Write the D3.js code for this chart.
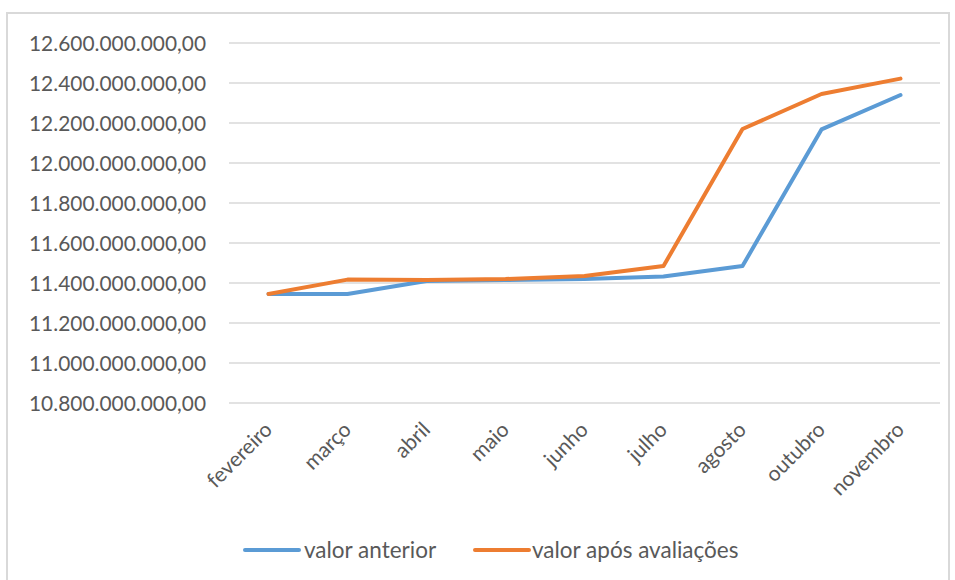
<!DOCTYPE html>
<html><head><meta charset="utf-8">
<script src="https://cdn.jsdelivr.net/npm/d3@7"></script>
<style>body{margin:0;background:#fff}svg{display:block}</style>
</head><body><svg id="c" width="955" height="580"></svg>
<script>
const categories = ["fevereiro","março","abril","maio","junho","julho","agosto","outubro","novembro"];
const valorAnterior = [11345000000,11345000000,11410000000,11415000000,11420000000,11432000000,11485000000,12168000000,12340000000];
const valorApos = [11345000000,11417000000,11415000000,11420000000,11435000000,11485000000,12170000000,12345000000,12422000000];
const yTicks = [10800000000,11000000000,11200000000,11400000000,11600000000,11800000000,12000000000,12200000000,12400000000,12600000000];
const seriesNames = ["valor anterior","valor após avaliações"];
const colors = ["#5B9BD5","#ED7D31"];

const svg = d3.select("#c");
const font = "Lato, sans-serif";
svg.append("rect").attr("x",7).attr("y",13).attr("width",942).attr("height",580).attr("fill","none").attr("stroke","#d9d9d9").attr("stroke-width",2);

const x = d3.scaleBand().domain(categories).range([229,940]);
const y = d3.scaleLinear().domain([10800000000,12600000000]).range([403,43]);
const fmt = v => d3.formatLocale({decimal:",",thousands:".",grouping:[3],currency:["",""]}).format(",.2f")(v);

const g = svg.append("g");
yTicks.forEach(t=>{
  g.append("line").attr("x1",229).attr("x2",940).attr("y1",y(t)).attr("y2",y(t)).attr("stroke","#d9d9d9").attr("stroke-width",1.3);
  g.append("text").attr("x",206).attr("y",y(t)).attr("dy","0.36em").attr("text-anchor","end")
   .attr("font-family",font).attr("font-size",21).attr("fill","#595959").attr("textLength",177).attr("lengthAdjust","spacingAndGlyphs").text(fmt(t));
});
categories.forEach(c=>{
  const cx = x(c)+x.bandwidth()/2+5, cy=431;
  g.append("text").attr("transform",`translate(${cx},${cy}) rotate(-45)`).attr("text-anchor","end")
   .attr("font-family",font).attr("font-size",21).attr("fill","#595959").text(c);
});
const line = d3.line().x((d,i)=>x(categories[i])+x.bandwidth()/2).y(d=>y(d));
[valorAnterior,valorApos].forEach((s,i)=>{
  g.append("path").attr("d",line(s)).attr("fill","none").attr("stroke",colors[i]).attr("stroke-width",4).attr("stroke-linejoin","round").attr("stroke-linecap","round");
});
const leg = [{x:245,tx:304},{x:475,tx:532}];
seriesNames.forEach((n,i)=>{
  g.append("line").attr("x1",leg[i].x).attr("x2",leg[i].x+54).attr("y1",550).attr("y2",550).attr("stroke",colors[i]).attr("stroke-width",4).attr("stroke-linecap","round");
  g.append("text").attr("x",leg[i].tx).attr("y",550).attr("dy","0.36em").attr("font-family",font).attr("font-size",22.5).attr("fill","#595959").text(n);
});
</script></body></html>
